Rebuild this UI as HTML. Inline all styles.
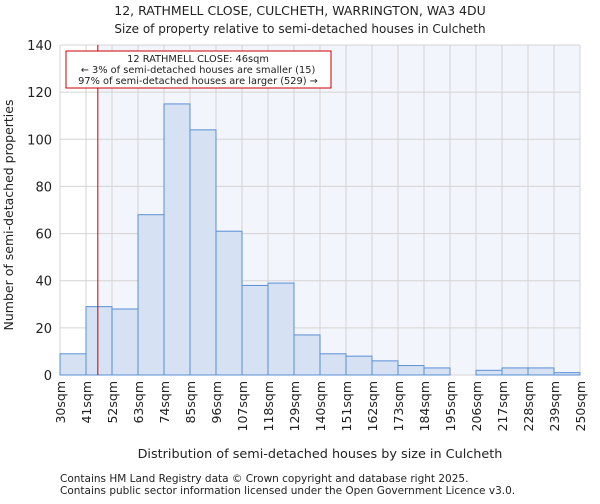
<!DOCTYPE html>
<html><head><meta charset="utf-8"><style>
body{margin:0;background:#fff;font-family:"DejaVu Sans","Liberation Sans",sans-serif;}
svg text{font-family:"DejaVu Sans","Liberation Sans",sans-serif;fill:#222;}
</style></head><body>
<svg id="chart" width="600" height="500" xmlns="http://www.w3.org/2000/svg">
<text x="300" y="15" font-size="12.5" text-anchor="middle">12, RATHMELL CLOSE, CULCHETH, WARRINGTON, WA3 4DU</text>
<text x="300" y="33" font-size="12" text-anchor="middle">Size of property relative to semi-detached houses in Culcheth</text>
<g id="plot"></g>
<text x="320" y="458" font-size="12.8" text-anchor="middle">Distribution of semi-detached houses by size in Culcheth</text>
<text transform="translate(13,215) rotate(-90)" font-size="12.5" text-anchor="middle">Number of semi-detached properties</text>
<text x="60" y="482" font-size="10.5" fill="#444">Contains HM Land Registry data © Crown copyright and database right 2025.</text>
<text x="60" y="494" font-size="10.5" fill="#444">Contains public sector information licensed under the Open Government Licence v3.0.</text>
</svg>
<script>
const binEdges=[30,41,52,63,74,85,96,107,118,129,140,151,162,173,184,195,206,217,228,239,250];
const tickLabels=["30sqm","41sqm","52sqm","63sqm","74sqm","85sqm","96sqm","107sqm","118sqm","129sqm","140sqm","151sqm","162sqm","173sqm","184sqm","195sqm","206sqm","217sqm","228sqm","239sqm","250sqm"];
const counts=[9,29,28,68,115,104,61,38,39,17,9,8,6,4,3,0,2,3,3,1];
const yTicks=[0,20,40,60,80,100,120,140];
const subjectSize=46;
const X0=60,X1=580,Y0=375,Y1=45;
const x=v=>X0+(v-30)/(250-30)*(X1-X0);
const y=v=>Y0-(v/140)*(Y0-Y1);
const NS="http://www.w3.org/2000/svg";
const g=document.getElementById('plot');
function mk(t,a){const e=document.createElementNS(NS,t);for(const k in a)e.setAttribute(k,a[k]);g.appendChild(e);return e;}
let e=mk('rect',{x:x(subjectSize),y:Y1,width:X1-x(subjectSize),height:Y0-Y1,fill:'#f3f5fc'});


yTicks.forEach(t=>{
 let l=mk('line',{x1:X0,x2:X1,y1:y(t),y2:y(t),stroke:'#d4d4d4','stroke-width':1});
 
 
 let tx=mk('text',{x:X0-8,y:y(t)+5,'font-size':13,'text-anchor':'end'});tx.textContent=t;
 
 
});
binEdges.forEach((b,i)=>{
 let l=mk('line',{x1:x(b),x2:x(b),y1:Y1,y2:Y0,stroke:'#d4d4d4','stroke-width':1});
 
 
 let tx=mk('text',{transform:`translate(${x(b)+5},${Y0+6}) rotate(-90)`,'font-size':12.5,'text-anchor':'end'});tx.textContent=tickLabels[i];
 
 
});
counts.forEach((c,i)=>{
 if(c<=0)return;
 let r=mk('rect',{x:x(binEdges[i]),y:y(c),width:x(binEdges[i+1])-x(binEdges[i]),height:Y0-y(c),fill:'#d6e1f3',stroke:'#5b8fd6','stroke-width':1});
 
 
});
e=mk('line',{x1:x(subjectSize),x2:x(subjectSize),y1:Y1,y2:Y0,stroke:'#cc0000','stroke-width':1});


e=mk('rect',{x:66,y:51,width:265,height:37,fill:'#fff',stroke:'#cc0000','stroke-width':1});


["12 RATHMELL CLOSE: 46sqm","← 3% of semi-detached houses are smaller (15)","97% of semi-detached houses are larger (529) →"].forEach((s,i)=>{
 let t=mk('text',{x:198,y:62+i*11,'font-size':9.8,'text-anchor':'middle'});t.textContent=s;
 
 
});
</script>
</body></html>
